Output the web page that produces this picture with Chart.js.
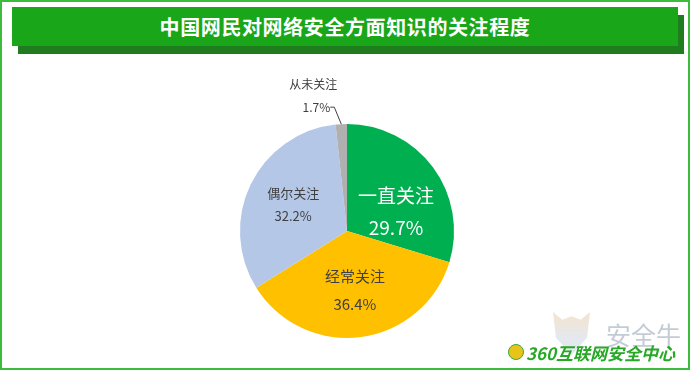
<!DOCTYPE html>
<html lang="zh">
  <head>
    <meta charset="UTF-8" />
    <title>中国网民对网络安全方面知识的关注程度</title>
    <script src="https://cdn.jsdelivr.net/npm/chart.js@4.4.1/dist/chart.umd.min.js"></script>
    <style>
      body { margin: 0; background: #fff; }
      #wrap {
        position: relative;
        width: 690px;
        height: 370px;
        overflow: hidden;
        font-family: 'Noto Sans CJK SC', 'Noto Sans', sans-serif;
      }
      #frame {
        position: absolute;
        left: 0; top: 0;
        width: 686px; height: 366px;
        border: 2px solid #3dbb3d;
        pointer-events: none;
      }
      #banner-shadow {
        position: absolute;
        left: 18px; top: 15px;
        width: 666px; height: 39px;
        background: #1f7d1f;
      }
      #banner {
        position: absolute;
        left: 12px; top: 7px;
        width: 666px; height: 39px;
        background: #19a619;
        color: #fff;
        font-weight: bold;
        font-size: 20px;
        line-height: 39px;
        text-align: center;
        letter-spacing: 0.6px;
      }
      canvas { position: absolute; left: 0; top: 0; }
      #shield {
        position: absolute;
        left: 553px; top: 312px;
        width: 37px; height: 43px;
        background: linear-gradient(180deg, #f3dcc0 0%, #dde3ea 60%);
        clip-path: polygon(0 0, 25% 18%, 50% 10%, 75% 18%, 100% 0, 92% 60%, 50% 100%, 8% 60%);
        opacity: 0.8;
      }
      #wm1 {
        position: absolute;
        left: 606px; top: 316px;
        font-size: 25px;
        color: #c3ccd6;
      }
      #wm2 {
        position: absolute;
        left: 526px; top: 340px;
        font-size: 17px;
        font-weight: bold;
        font-style: italic;
        color: #27a827;
        white-space: nowrap;
      }
      #wmlogo {
        position: absolute;
        left: 508px; top: 344px;
        width: 14px; height: 14px;
        border-radius: 50%;
        background: #e8c419;
        border: 1px solid #3aa83a;
      }
    </style>
  </head>
  <body>
    <div id="wrap">
      <div id="banner-shadow"></div>
      <div id="banner">中国网民对网络安全方面知识的关注程度</div>
      <canvas id="pie" width="690" height="370"></canvas>
      <div id="shield"></div>
      <div id="wm1">安全牛</div>
      <div id="wmlogo"></div>
      <div id="wm2">360互联网安全中心</div>
      <div id="frame"></div>
    </div>

    <script>
      const categories = ['一直关注', '经常关注', '偶尔关注', '从未关注']
      const shares = [29.7, 36.4, 32.2, 1.7]
      const sliceColors = ['#00b050', '#ffc000', '#b4c7e7', '#b0b0b0']

      // label styling per slice: font size, colour, radius fraction, nudge
      const labelStyle = [
        { size: 19, color: '#ffffff', r: 0.5, dx: 6, dy: 13, gap: 32 },
        { size: 15, color: '#404040', r: 0.56, dx: 0, dy: 0, gap: 28 },
        { size: 13, color: '#404040', r: 0.57, dx: 1, dy: 0, gap: 23 },
      ]

      const labelPlugin = {
        id: 'sliceLabels',
        afterDatasetsDraw(chart) {
          const ctx = chart.ctx
          const arcs = chart.getDatasetMeta(0).data
          ctx.save()
          ctx.textAlign = 'center'
          ctx.textBaseline = 'middle'
          arcs.forEach((arc, i) => {
            const pct = shares[i].toFixed(1) + '%'
            const mid = (arc.startAngle + arc.endAngle) / 2
            if (i < 3) {
              const s = labelStyle[i]
              const x = arc.x + Math.cos(mid) * arc.outerRadius * s.r + s.dx
              const y = arc.y + Math.sin(mid) * arc.outerRadius * s.r + s.dy
              ctx.fillStyle = s.color
              ctx.font = s.size + "px 'Noto Sans CJK SC', sans-serif"
              ctx.fillText(categories[i], x, y - s.gap / 2)
              ctx.fillText(pct, x, y + s.gap / 2)
            } else {
              // outside label with a leader line
              const ex = arc.x + Math.cos(mid) * arc.outerRadius
              const ey = arc.y + Math.sin(mid) * arc.outerRadius
              const kx = ex - 7
              const ky = ey - 17
              ctx.strokeStyle = '#404040'
              ctx.lineWidth = 1
              ctx.beginPath()
              ctx.moveTo(ex, ey)
              ctx.lineTo(kx, ky)
              ctx.lineTo(kx - 4, ky)
              ctx.stroke()
              ctx.fillStyle = '#404040'
              ctx.font = "12px 'Noto Sans CJK SC', sans-serif"
              ctx.textAlign = 'right'
              ctx.fillText(pct, kx - 4, ky)
              ctx.textAlign = 'center'
              ctx.fillText(categories[i], kx - 21, ky - 23)
            }
          })
          ctx.restore()
        },
      }

      new Chart(document.getElementById('pie').getContext('2d'), {
        type: 'pie',
        data: {
          labels: categories,
          datasets: [
            {
              data: shares,
              backgroundColor: sliceColors,
              borderWidth: 0,
            },
          ],
        },
        options: {
          responsive: false,
          animation: false,
          layout: {
            padding: { left: 240, right: 236, top: 124, bottom: 32 },
          },
          plugins: {
            legend: { display: false },
            tooltip: { enabled: false },
          },
        },
        plugins: [labelPlugin],
      })
    </script>
  </body>
</html>
